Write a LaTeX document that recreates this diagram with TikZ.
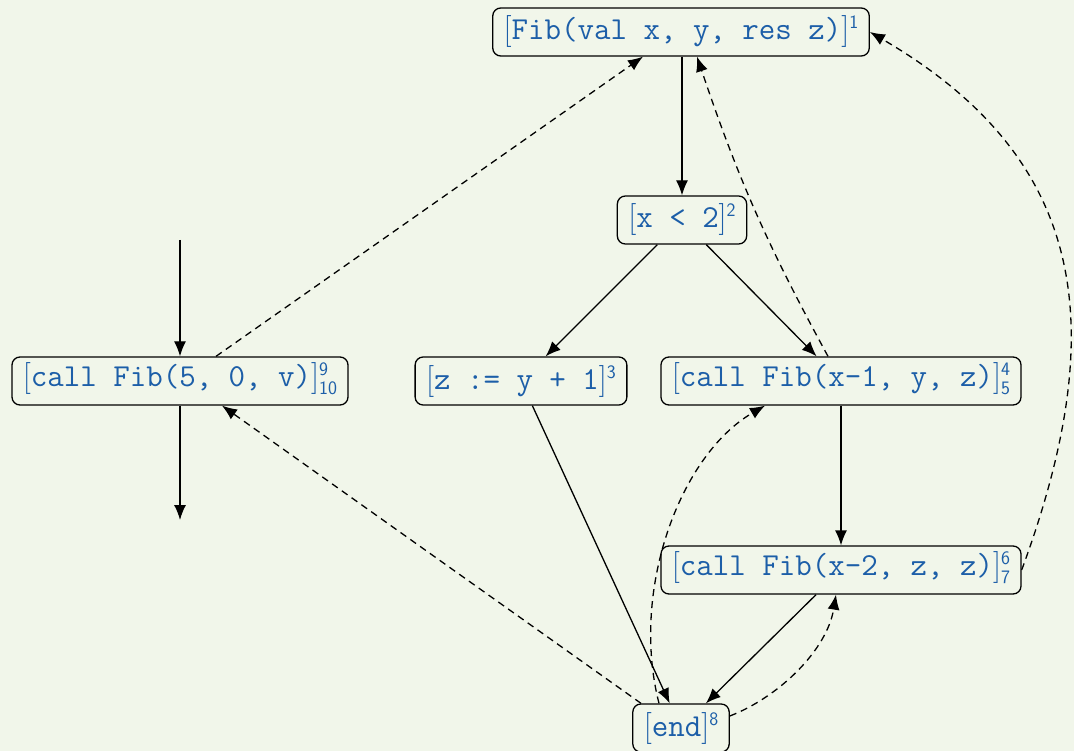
\documentclass[tikz,border=0pt]{standalone}
\usepackage{fontspec}
\usetikzlibrary{arrows.meta}

\definecolor{bgcol}{RGB}{241,246,234}
\definecolor{txtcol}{RGB}{28,94,168}

% statement label: [code] with a label number (or entry/exit pair)
\newcommand\labfont{\sffamily\fontsize{19}{19}\selectfont}
\newcommand\labnum[1]{\raisebox{11pt}{\labfont #1}}
\newcommand\labpair[2]{\raisebox{-8pt}{\labfont\begin{tabular}[b]{@{}l@{}}#1\\#2\end{tabular}}}
\newcommand\code[1]{\textrm{[}\texttt{#1}\textrm{]}}

\begin{document}
\begin{tikzpicture}[x=1pt,y=-1pt,
  stmt/.style={draw=black, line width=1.3pt, rounded corners=8pt, fill=bgcol,
    text=txtcol, inner xsep=11pt, inner ysep=0pt, minimum height=48pt,
    font=\fontsize{32}{38}\selectfont},
  flow/.style={line width=1.3pt, -{Latex[length=15pt,width=12pt]}},
  inter/.style={flow, dash pattern=on 7pt off 5pt}]

\useasboundingbox[fill=bgcol] (0,0) rectangle (1074,751);

% blocks
\node[stmt] (n1) at (681,32)  {\code{Fib(val x, y, res z)}\labnum{1}};
\node[stmt] (n2) at (682,220) {\code{x < 2}\labnum{2}};
\node[stmt] (n3) at (521,381) {\code{z := y + 1}\labnum{3}};
\node[stmt] (n4) at (841,381) {\code{call Fib(x-1, y, z)}\labpair{4}{5}};
\node[stmt] (n9) at (180,381) {\code{call Fib(5, 0, v)}\labpair{9}{10}};
\node[stmt] (n6) at (841,570) {\code{call Fib(x-2, z, z)}\labpair{6}{7}};
\node[stmt] (n8) at (681,728) {\code{end}\labnum{8}};

\coordinate (in)  at (180,240);
\coordinate (out) at (180,520);

% intraprocedural flow
\draw[flow] (in) -- (n9);
\draw[flow] (n9) -- (out);
\draw[flow] (n1.south -| n2.north) -- (n2);
\draw[flow] (n2) -- (n3);
\draw[flow] (n2) -- (n4);
\draw[flow] (n3) -- (n8);
\draw[flow] (n4) -- (n6);
\draw[flow] (n6) -- (n8);

% calls and returns
\draw[inter] ([xshift=36pt]n9.north) -- ([xshift=-38pt]n1.south);
\draw[inter] ([xshift=-13pt]n4.north) to[bend left=5] ([xshift=16pt]n1.south);
\draw[inter] (n6.east) .. controls (1110,330) and (1090,160) .. (n1.east);
\draw[inter] ([xshift=-40pt]n8.north) -- ([xshift=42pt]n9.south);
\draw[inter] ([xshift=-22pt]n8.north) .. controls (630,590) and (680,455) .. ([xshift=-76pt]n4.south);
\draw[inter] ([yshift=12pt]n8.east) .. controls (779,697) and (827,650) .. ([xshift=-5pt]n6.south);
\end{tikzpicture}
\end{document}
